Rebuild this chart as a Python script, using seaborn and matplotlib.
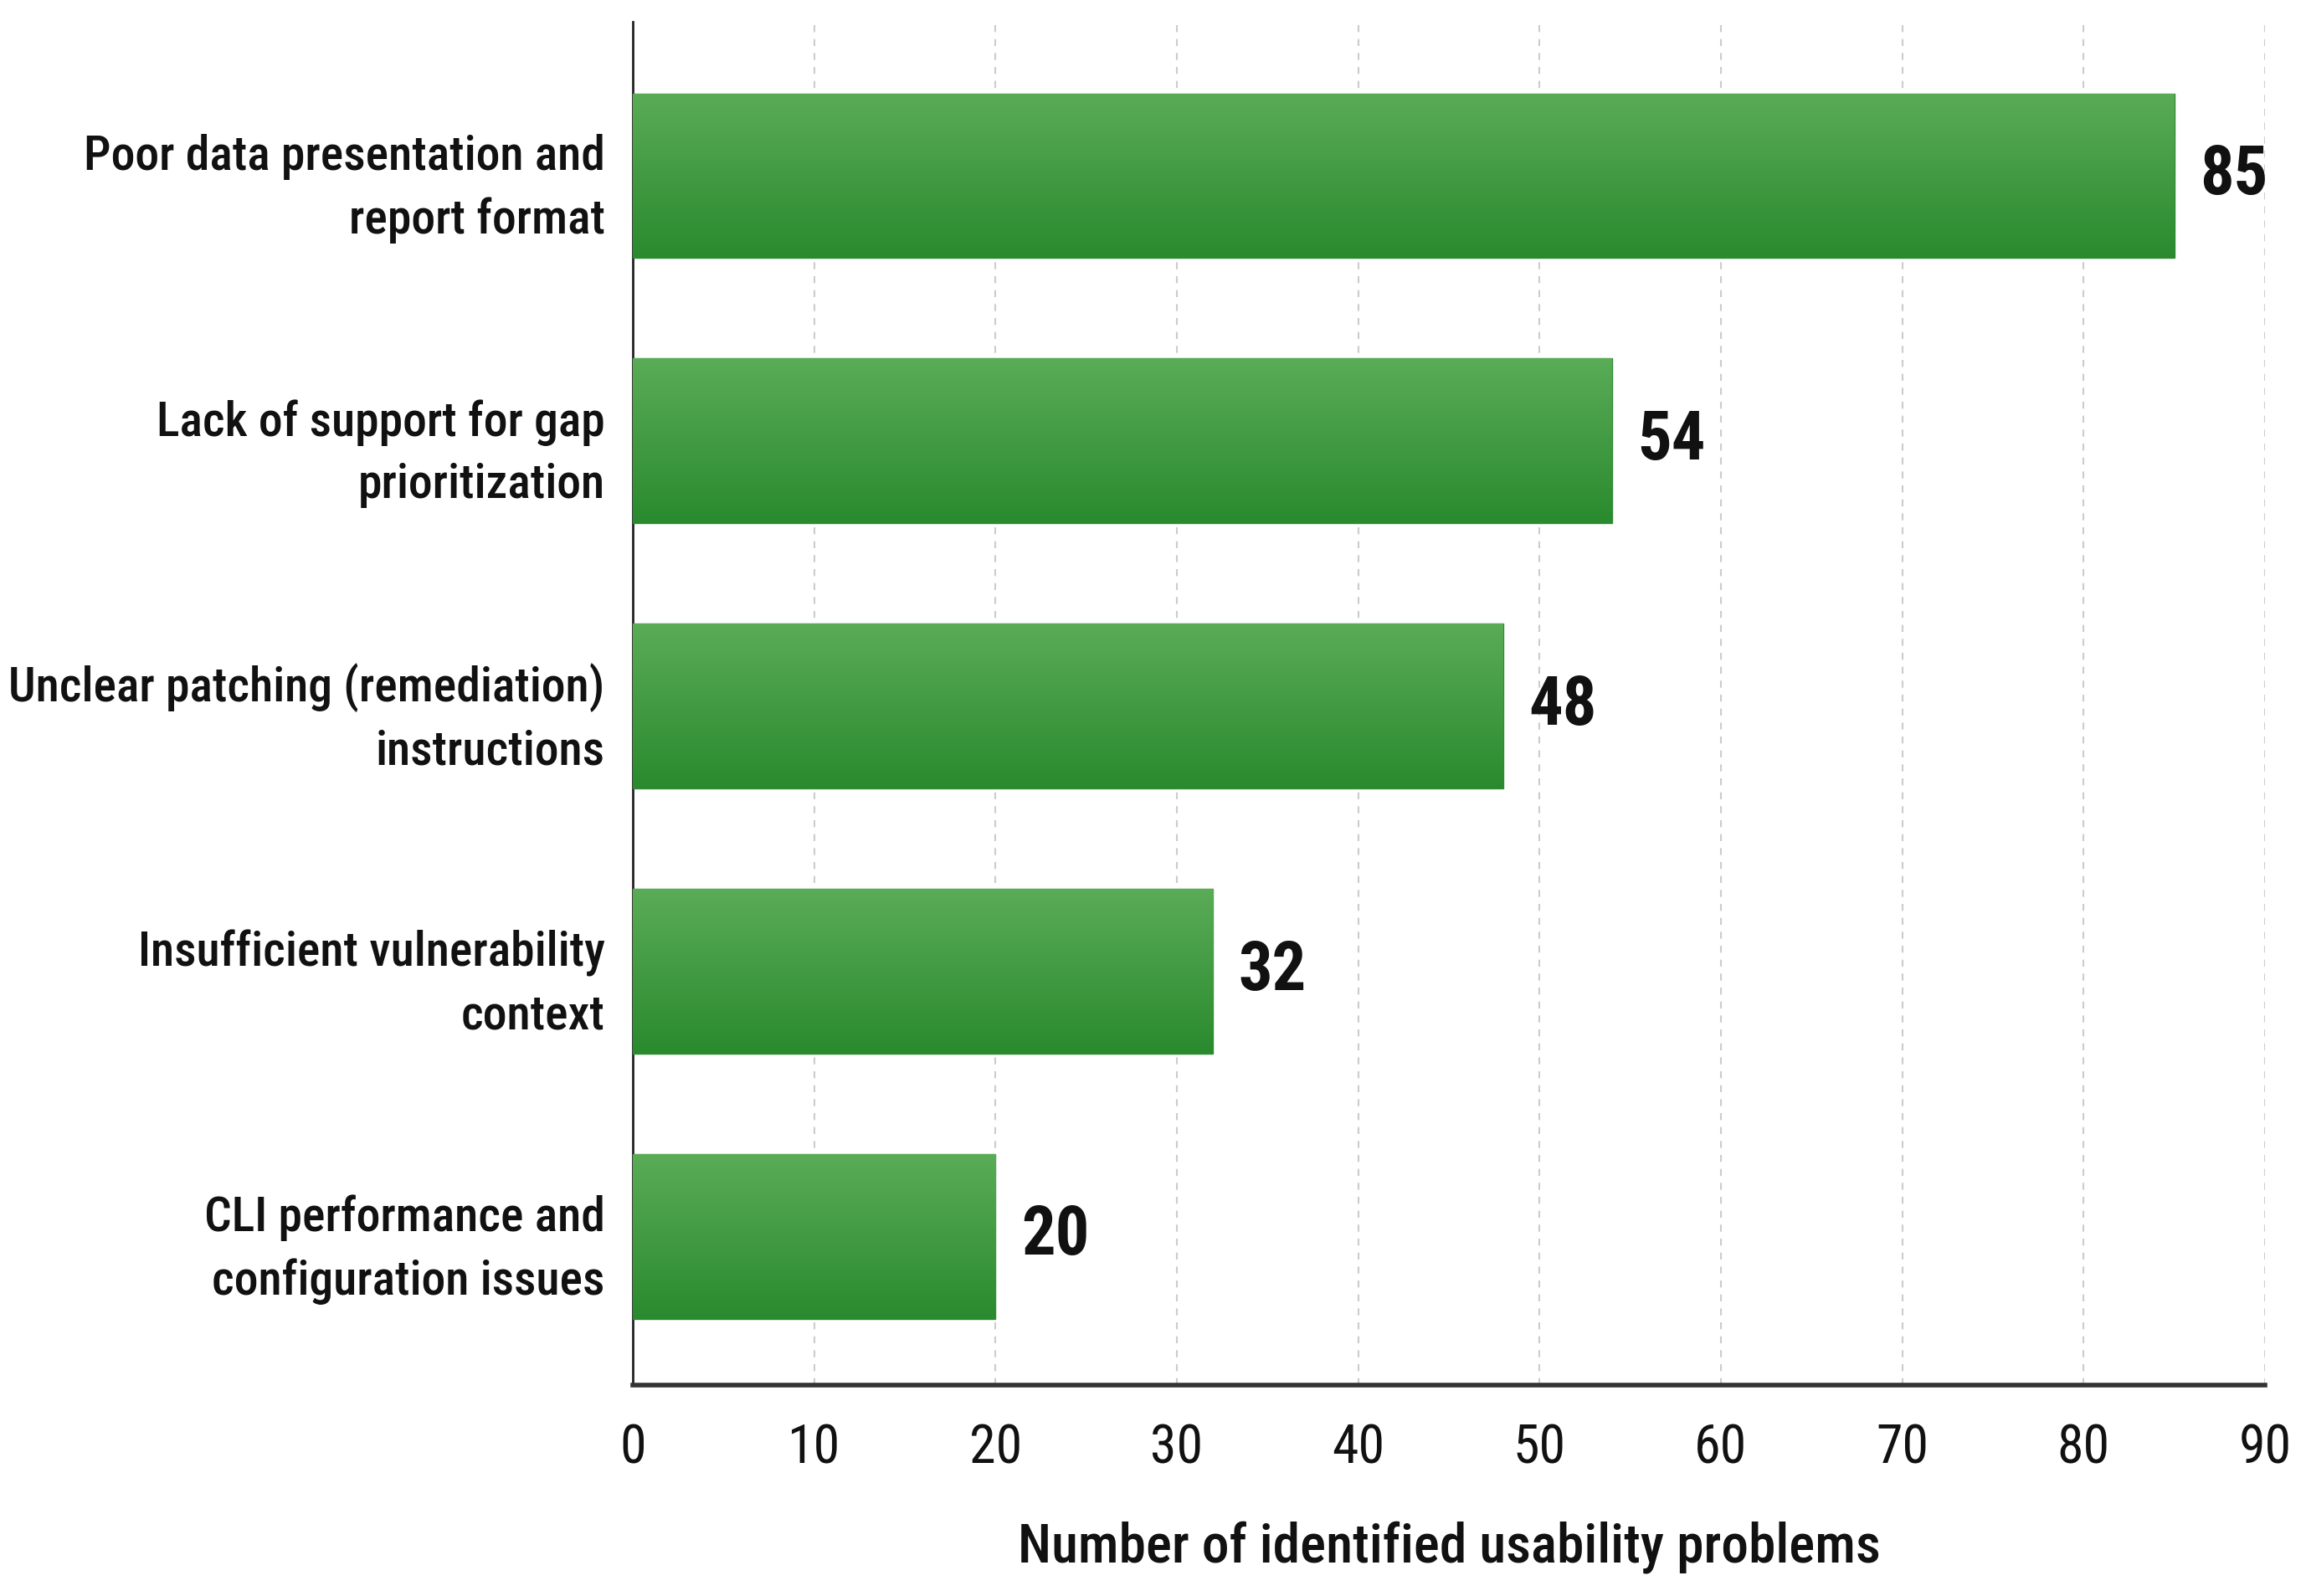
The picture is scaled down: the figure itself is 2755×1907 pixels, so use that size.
import numpy as np
import pandas as pd
import matplotlib
matplotlib.use("Agg")
import matplotlib.pyplot as plt
import seaborn as sns
from matplotlib import font_manager
from matplotlib.colors import LinearSegmentedColormap

# data
issues = [
    "Poor data presentation and\nreport format",
    "Lack of support for gap\nprioritization",
    "Unclear patching (remediation)\ninstructions",
    "Insufficient vulnerability\ncontext",
    "CLI performance and\nconfiguration issues",
]
counts = [85, 54, 48, 32, 20]
x_ticks = [0, 10, 20, 30, 40, 50, 60, 70, 80, 90]
x_label = "Number of identified usability problems"

df = pd.DataFrame({"issue": issues, "count": counts})

# pick a narrow font if we have one
installed = {f.name for f in font_manager.fontManager.ttflist}
font = "DejaVu Sans"
for name in ["Roboto Condensed", "Liberation Sans Narrow", "Roboto", "Liberation Sans"]:
    if name in installed:
        font = name
        break

sns.set_style("white")
plt.rcParams["font.family"] = [font, "DejaVu Sans"]

fig = plt.figure(figsize=(27.55, 19.07), dpi=100)
ax = fig.add_axes([0.2744, 0.1322, 0.7078, 0.8542])

sns.barplot(data=df, x="count", y="issue", orient="h", color="#3f9a40",
            width=0.62, ax=ax, zorder=3)

# vertical gradient inside each bar
cmap = LinearSegmentedColormap.from_list("g", ["#5aac56", "#2a8a2e"])
grad = np.linspace(0, 1, 256).reshape(-1, 1)
for p in ax.patches:
    x0, y0 = p.get_x(), p.get_y()
    w, h = p.get_width(), p.get_height()
    img = ax.imshow(grad, cmap=cmap, aspect="auto", extent=(x0, x0 + w, y0 + h, y0),
                    origin="upper", zorder=3, interpolation="bicubic")
    img.set_clip_path(p)
    p.set_facecolor("none")
    p.set_edgecolor("#2f8a33")
    p.set_linewidth(1.0)
ax.set_xlim(0, 90)
ax.set_ylim(4.56, -0.58)
ax.set_xticks(x_ticks)

# value labels
for i, v in enumerate(counts):
    ax.annotate(str(v), xy=(v, i), xytext=(22, 0), textcoords="offset points",
                ha="left", va="center", fontsize=58, fontweight="bold", color="#111111")

ax.grid(axis="x", color="#cccccc", linestyle=(0, (4, 4)), linewidth=1.5, zorder=0)
ax.grid(axis="y", visible=False)

for s in ["top", "right"]:
    ax.spines[s].set_visible(False)
ax.spines["left"].set_color("#222222")
ax.spines["left"].set_linewidth(2)
ax.spines["bottom"].set_color("#333333")
ax.spines["bottom"].set_linewidth(4)

ax.tick_params(axis="x", length=0, pad=32, labelsize=46, labelcolor="#111111")
ax.tick_params(axis="y", length=0, pad=24, labelsize=41.5, labelcolor="#111111")
for t in ax.get_yticklabels():
    t.set_fontweight("medium")
    t.set_horizontalalignment("right")
    t.set_linespacing(1.45)

ax.set_ylabel("")
ax.set_xlabel(x_label, fontsize=47, fontweight="medium", color="#111111", labelpad=40)

fig.savefig("out.png", dpi=100, facecolor="white")
